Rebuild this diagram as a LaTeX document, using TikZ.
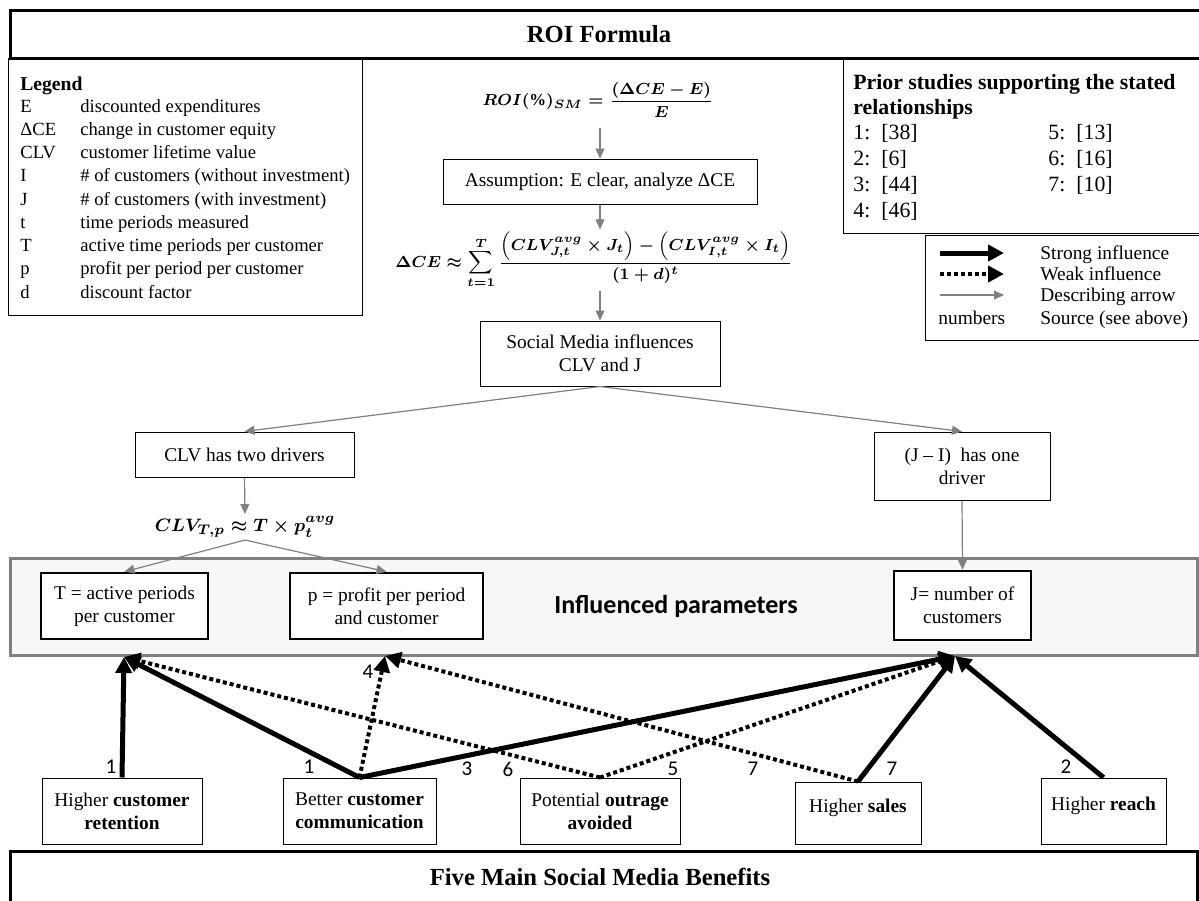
\documentclass[tikz,border=0pt]{standalone}
\usepackage{amsmath}
\usepackage{fontspec}
\setmainfont{Liberation Serif}
\newfontfamily\carlito{Carlito}
\usetikzlibrary{arrows.meta,positioning}

\tikzset{
  boxtext/.style={font=\fontsize{9.7}{11.4}\selectfont},
  flowbox/.style={draw, line width=0.5pt, fill=white, align=center, inner sep=0pt, boxtext},
  parambox/.style={flowbox, line width=1.3pt},
  formula/.style={inner sep=1pt, font=\fontsize{8.4}{10}\selectfont\boldmath},
  describe/.style={draw=gray, line width=0.6pt, -{Triangle[length=5pt,width=4.5pt]}},
  strong/.style={line width=2.5pt, -{Triangle[length=8pt,width=8pt]}},
  weak/.style={line width=2pt, dash pattern=on 2pt off 1.5pt, -{Triangle[length=8pt,width=8pt]}},
  srcnum/.style={font=\carlito\fontsize{10.5}{12}\selectfont, inner sep=0pt},
  legtext/.style={anchor=base west, inner sep=0pt, font=\fontsize{9.3}{11}\selectfont},
  priortext/.style={anchor=base west, inner sep=0pt, font=\fontsize{10.9}{13}\selectfont},
  keytext/.style={anchor=base west, inner sep=0pt, boxtext},
  frametitle/.style={font=\bfseries\fontsize{12.3}{14}\selectfont},
}

\begin{document}
\begin{tikzpicture}[x=0.5pt, y=-0.5pt]
\useasboundingbox (0,0) rectangle (1199,900);

% title frames
\draw[line width=1.5pt] (10,10) rectangle (1203,58);
\node[frametitle] (roititle) at (599,34) {ROI Formula};
\draw[line width=1.5pt] (10,851) rectangle (1197,905);
\node[frametitle] (bentitle) at (600,877) {Five Main Social Media Benefits};

% legend of symbols
\draw[line width=0.5pt] (8,58) rectangle (362,315);
\node[legtext, font=\bfseries\fontsize{9.8}{11}\selectfont] (leghead) at (20,90) {Legend};
\foreach \y/\sym/\desc [count=\i] in {112/E/discounted expenditures,
    135.25/ΔCE/change in customer equity, 158.5/CLV/customer lifetime value,
    181.75/I/\# of customers (without investment), 205/J/\# of customers (with investment),
    228.25/t/time periods measured, 251.5/T/active time periods per customer,
    274.75/p/profit per period per customer, 298/d/discount factor}{
  \node[legtext] (legsym\i) at (20,\y) {\sym};
  \node[legtext] (legdesc\i) at (80,\y) {\desc};
}

% prior studies
\draw[line width=0.5pt] (843,58) rectangle (1203,233);
\node[priortext, font=\bfseries\fontsize{10.9}{13}\selectfont] (priorhead) at (853,89) {Prior studies supporting the stated};
\node[priortext, font=\bfseries\fontsize{10.9}{13}\selectfont] (priorhead2) at (853,114) {relationships};
\foreach \n/\cit/\y in {1/38/139, 2/6/165, 3/44/191, 4/46/217}{
  \node[priortext] (pnum\n) at (853,\y) {\n:};
  \node[priortext] (pcit\n) at (881,\y) {[\cit]};
}
\foreach \n/\cit/\y in {5/13/139, 6/16/165, 7/10/191}{
  \node[priortext] (pnum\n) at (1048,\y) {\n:};
  \node[priortext] (pcit\n) at (1076,\y) {[\cit]};
}

% arrow key
\draw[line width=0.5pt] (925,235) rectangle (1203,340);
\coordinate (strongA) at (940,253); \coordinate (strongB) at (1004,253);
\coordinate (weakA) at (940,274);   \coordinate (weakB) at (1004,274);
\coordinate (descA) at (940,295);   \coordinate (descB) at (1004,295);
\draw[strong] (strongA) -- (strongB);
\draw[weak] (weakA) -- (weakB);
\draw[describe] (descA) -- (descB);
\node[keytext] (strongtxt) at (1040,259) {Strong influence};
\node[keytext] (weaktxt) at (1040,280) {Weak influence};
\node[keytext] (desctxt) at (1040,301) {Describing arrow};
\node[keytext] (numtxt) at (938,324) {numbers};
\node[keytext] (srctxt) at (1040,324) {Source (see above)};

% ROI derivation
\node[formula] (roiform) at (598,100) {$ROI(\%)_{SM} = \dfrac{(\Delta CE - E)}{E}$};
\node[flowbox, minimum width=157pt, minimum height=22.5pt] (assump) at (600,181.5) {Assumption: E clear, analyze ΔCE};
\node[formula] (cefor) at (594,260) {$\Delta CE \approx \displaystyle\sum_{t=1}^{T} \frac{\left(CLV_{J,t}^{avg} \times J_t\right) - \left(CLV_{I,t}^{avg} \times I_t\right)}{(1+d)^t}$};
\node[flowbox, minimum width=120pt, minimum height=32.5pt] (social) at (600,353.5) {Social Media influences\\CLV and J};
\node[flowbox, minimum width=109.5pt, minimum height=22.5pt] (clvbox) at (244.5,454.5) {CLV has two drivers};
\node[flowbox, minimum width=88pt, minimum height=34pt] (jibox) at (962,466) {(J -- I)\ \ has one\\driver};
\node[formula, font=\fontsize{9.3}{11}\selectfont\boldmath] (clvform) at (245,527) {$CLV_{T,p} \approx T \times p_t^{avg}$};

% influenced parameters
\draw[draw=gray, line width=1.5pt, fill=gray!6] (10,558) rectangle (1197,655);
\node[font=\carlito\bfseries\fontsize{13}{15}\selectfont] (infl) at (676,606) {Influenced parameters};
\node[parambox, minimum width=83.5pt, minimum height=33pt] (tbox) at (124.5,606) {T = active periods\\per customer};
\node[parambox, minimum width=96.5pt, minimum height=33pt] (pbox) at (386.5,606) {p = profit per period\\and customer};
\node[parambox, minimum width=68.5pt, minimum height=34.5pt] (jbox) at (962.5,605.5) {J= number of\\customers};

\draw[describe, shorten <=4pt] (assump.north |- roiform.south) -- (assump.north);
\draw[describe] (assump.south) -- (assump.south |- cefor.north);
\draw[describe] (social.north |- cefor.south) -- (social.north);
\draw[describe] (social.south) -- (clvbox.north);
\draw[describe] (social.south) -- (jibox.north);
\draw[describe] (clvbox.south) -- (clvform.north);
\draw[describe] (clvform.south) -- (tbox.north);
\draw[describe] (clvform.south) -- (pbox.north);
\draw[describe] (jibox.south) -- (jbox.north);

% benefits
\node[flowbox, minimum width=80pt, minimum height=33pt] (retention) at (122,811) {Higher \textbf{customer}\\\textbf{retention}};
\node[flowbox, minimum width=76.5pt, minimum height=33pt] (communic) at (359.5,811) {Better \textbf{customer}\\\textbf{communication}};
\node[flowbox, minimum width=80pt, minimum height=33pt] (outrage) at (600,811) {Potential \textbf{outrage}\\\textbf{avoided}};
\node[flowbox, minimum width=63pt, minimum height=31pt] (sales) at (858,813) {Higher \textbf{sales}\\[-8pt]\strut};
\node[flowbox, minimum width=62.5pt, minimum height=33pt] (reach) at (1103.5,811) {Higher \textbf{reach}\\[-8pt]\strut};

\coordinate (ttip) at (124,657);
\coordinate (ptip) at (385,656);
\coordinate (jtip) at (955,656);

\draw[strong] (retention.north) -- (ttip);
\draw[strong] (communic.north) -- (ttip);
\draw[weak] (communic.north) -- (ptip);
\draw[strong] (communic.north) -- (jtip);
\draw[weak] (outrage.north) -- (ttip);
\draw[weak] (outrage.north) -- (jtip);
\draw[weak] (sales.north) -- (ptip);
\draw[strong] (sales.north) -- (jtip);
\draw[strong] (reach.north) -- (jtip);

% source numbers
\node[srcnum] (src1a) at (111,767) {1};
\node[srcnum] (src1b) at (309,767) {1};
\node[srcnum] (src4) at (368,672) {4};
\node[srcnum] (src3) at (467,769) {3};
\node[srcnum] (src6) at (508,769) {6};
\node[srcnum] (src5) at (673,769) {5};
\node[srcnum] (src7a) at (753,769) {7};
\node[srcnum] (src7b) at (892,769) {7};
\node[srcnum] (src2) at (1066,767) {2};
\end{tikzpicture}
\end{document}
